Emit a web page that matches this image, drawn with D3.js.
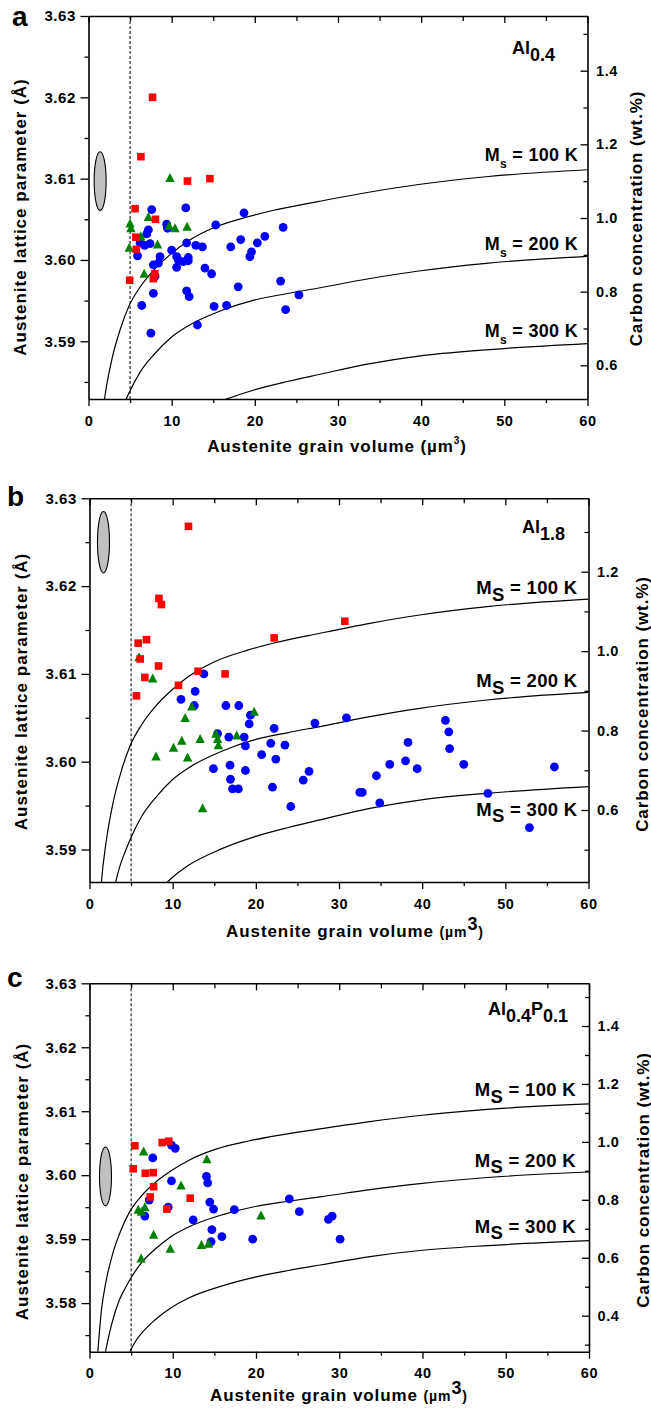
<!DOCTYPE html>
<html><head><meta charset="utf-8">
<script src="https://cdn.jsdelivr.net/npm/d3@7"></script>
<style>
body{margin:0;background:#fff}
svg{display:block}
text{font-family:"Liberation Sans",Arial,Helvetica,sans-serif;font-weight:bold;fill:#000}
</style>
</head><body>
<svg id="chart" width="651" height="1416"></svg>
<script>
// ---------------- DATA ----------------
const xTicks = [0, 10, 20, 30, 40, 50, 60];
const xMinorTicks = [5, 15, 25, 35, 45, 55];
const latticeTicksAB = [3.59, 3.60, 3.61, 3.62, 3.63];
const latticeMinorAB = [3.585, 3.595, 3.605, 3.615, 3.625];
const latticeTicksC = [3.58, 3.59, 3.60, 3.61, 3.62, 3.63];
const latticeMinorC = [3.575, 3.585, 3.595, 3.605, 3.615, 3.625];
const carbonTicksA = [0.6, 0.8, 1.0, 1.2, 1.4];
const carbonMinorA = [0.7, 0.9, 1.1, 1.3, 1.5];
const carbonTicksB = [0.6, 0.8, 1.0, 1.2];
const carbonMinorB = [0.5, 0.7, 0.9, 1.1, 1.3];
const carbonTicksC = [0.4, 0.6, 0.8, 1.0, 1.2, 1.4];
const carbonMinorC = [0.3, 0.5, 0.7, 0.9, 1.1, 1.3, 1.5];

const latticeDomainA = [3.5829, 3.63], carbonDomainA = [0.5085, 1.5485];
const latticeDomainB = [3.5863, 3.63], carbonDomainB = [0.4187, 1.3848];
const latticeDomainC = [3.5724, 3.63], carbonDomainC = [0.2757, 1.5474];

const minGrainVolume = 5; // dashed line (µm^3)

// Ms iso-lines: [grain volume µm^3, carbon wt.%]
const ms100 = [[1.0,0.276],[1.44,0.42],[2.0,0.52],[2.85,0.62],[3.85,0.70],[4.85,0.76],[6.25,0.814],[7.9,0.86],[9.9,0.902],[11.9,0.936],[15.1,0.974],[19.1,1.003],[22.3,1.021],[27.7,1.045],[33.7,1.07],[39.7,1.091],[47.8,1.112],[60,1.131]];
const ms200 = [[1.92,0.276],[2.4,0.34],[3.0,0.405],[3.6,0.455],[4.25,0.493],[4.85,0.524],[6.25,0.583],[7.9,0.63],[9.9,0.675],[11.9,0.706],[15.9,0.748],[19.9,0.777],[23.9,0.795],[27.7,0.81],[33.7,0.835],[39.7,0.856],[47.8,0.877],[60,0.896]];
const ms300 = [[4.85,0.276],[5.5,0.31],[6.25,0.339],[7.85,0.385],[9.85,0.428],[11.85,0.46],[15.85,0.502],[19.9,0.533],[23.9,0.556],[27.7,0.575],[33.7,0.604],[39.7,0.625],[47.8,0.642],[60,0.659]];
const msLabels = ["100", "200", "300"];

// error ellipses: [volume, lattice, half-height in Å]
const ellipseA = [1.4, 3.6097, 0.0036];
const ellipseB = [1.68, 3.6250, 0.0035];
const ellipseC = [1.92, 3.5998, 0.0046];

// Panel a (Al0.4): [grain volume, lattice parameter]
const aBlue = [[7.6,3.6062],[11.7,3.6064],[18.7,3.6058],[15.3,3.6043],[9.4,3.6044],[9.5,3.6039],[23.4,3.6040],[7.2,3.6037],[7.0,3.6032],[6.2,3.6021],[7.4,3.6020],[6.75,3.6018],[5.9,3.6005],[11.8,3.6021],[10.0,3.6012],[12.9,3.6018],[13.7,3.6016],[17.1,3.6016],[18.3,3.6025],[20.3,3.6021],[21.2,3.6029],[19.6,3.6010],[19.4,3.6004],[8.6,3.6004],[7.8,3.5994],[8.4,3.5996],[10.6,3.6004],[10.8,3.6000],[10.6,3.5991],[11.4,3.5998],[12.0,3.6003],[12.0,3.5999],[14.0,3.5990],[14.8,3.5983],[8.0,3.5980],[7.8,3.5959],[11.8,3.5962],[12.1,3.5955],[18.0,3.5967],[23.1,3.5974],[25.3,3.5957],[23.7,3.5939],[6.4,3.5944],[15.1,3.5943],[16.6,3.5944],[13.1,3.5920],[7.5,3.5910]];
const aGreen = [[9.8,3.6101],[5.0,3.6045],[5.1,3.6039],[7.2,3.6053],[6.3,3.6029],[4.9,3.6015],[8.3,3.6019],[6.7,3.5983],[9.7,3.6042],[10.4,3.6039],[11.85,3.6041]];
const aRed = [[7.7,3.6200],[6.3,3.6127],[11.9,3.6097],[14.6,3.6100],[5.6,3.6063],[8.05,3.6050],[5.7,3.6028],[5.75,3.6013],[7.98,3.5983],[7.8,3.5977],[4.95,3.5975]];

// Panel b (Al1.8)
const bBlue = [[13.75,3.6100],[12.7,3.6080],[11.0,3.6071],[12.6,3.6064],[16.4,3.6064],[17.95,3.6064],[19.35,3.6053],[19.2,3.6043],[15.4,3.6032],[16.75,3.6028],[18.6,3.6028],[18.75,3.6018],[22.2,3.6038],[21.8,3.6021],[23.5,3.6019],[20.7,3.6008],[22.4,3.6003],[27.1,3.6044],[14.9,3.5992],[16.9,3.5996],[16.95,3.5980],[17.2,3.5969],[17.9,3.5969],[18.75,3.5990],[22.0,3.5971],[24.2,3.5949],[25.7,3.5979],[26.4,3.5989],[30.9,3.6050],[42.8,3.6047],[43.2,3.6034],[43.3,3.6015],[38.3,3.6022],[38.0,3.6001],[36.1,3.5997],[39.4,3.5992],[45.0,3.5997],[34.5,3.5984],[32.5,3.5965],[32.8,3.5965],[34.9,3.5953],[47.9,3.5964],[55.9,3.5994],[52.9,3.5925]];
const bGreen = [[5.95,3.6119],[7.6,3.6095],[12.3,3.6063],[11.5,3.6050],[11.1,3.6024],[10.1,3.6016],[8.0,3.6006],[11.8,3.6005],[13.3,3.6026],[15.2,3.6032],[15.4,3.6026],[15.5,3.6019],[17.7,3.6030],[19.8,3.6057],[13.6,3.5947]];
const bRed = [[11.9,3.6268],[8.35,3.6186],[8.65,3.6179],[5.85,3.6135],[6.85,3.6139],[6.1,3.6117],[8.3,3.6109],[6.65,3.6096],[5.65,3.6075],[10.7,3.6087],[13.05,3.6103],[16.3,3.6100],[22.2,3.6141],[30.7,3.6160]];

// Panel c (Al0.4P0.1)
const cBlue = [[7.6,3.6027],[9.85,3.6047],[10.3,3.6042],[9.85,3.5991],[14.05,3.5998],[14.2,3.5988],[7.17,3.5961],[6.65,3.5936],[9.45,3.5950],[14.45,3.5958],[14.9,3.5947],[17.4,3.5946],[12.45,3.5930],[14.7,3.5915],[15.9,3.5904],[14.6,3.5896],[19.6,3.5900],[24.0,3.5963],[25.2,3.5943],[28.7,3.5931],[29.15,3.5936],[30.1,3.5900]];
const cGreen = [[6.5,3.6037],[14.1,3.6025],[11.0,3.5984],[20.6,3.5937],[5.85,3.5946],[6.25,3.5943],[6.65,3.5950],[7.7,3.5907],[9.7,3.5885],[13.45,3.5891],[14.3,3.5893],[6.2,3.5870]];
const cRed = [[5.45,3.6046],[5.25,3.6010],[8.73,3.6051],[9.53,3.6053],[6.7,3.6003],[7.65,3.6004],[7.7,3.5982],[7.3,3.5966],[12.1,3.5964],[9.3,3.5947]];

// ---------------- LAYOUT ----------------
const panels = [
  {key:"a", left:88.5, right:587.5, top:16, bottom:399,
   latDomain:latticeDomainA, carbDomain:carbonDomainA,
   latTicks:latticeTicksAB, latMinor:latticeMinorAB, carbTicks:carbonTicksA, carbMinor:carbonMinorA,
   blue:aBlue, green:aGreen, red:aRed, ellipse:ellipseA,
   alloy:[["Al",0],["0.4",1]], alloyX:555, alloyY:54,
   msSub:"s", msSubSize:12, msX:578, msY:[161,250,337], msSize:18,
   letterX:12, letterY:26,
   leftTitleX:26, leftTitleY:217, rightTitleX:642, rightTitleY:218.5,
   bottomTitleX:337, bottomTitleY:451.5, bigSup:false},
  {key:"b", left:89.5, right:588.5, top:498.3, bottom:882,
   latDomain:latticeDomainB, carbDomain:carbonDomainB,
   latTicks:latticeTicksAB, latMinor:latticeMinorAB, carbTicks:carbonTicksB, carbMinor:carbonMinorB,
   blue:bBlue, green:bGreen, red:bRed, ellipse:ellipseB,
   alloy:[["Al",0],["1.8",1]], alloyX:565, alloyY:533,
   msSub:"S", msSubSize:18.5, msX:577.5, msY:[594,687,815.5], msSize:18.5,
   letterX:7, letterY:506,
   leftTitleX:26.5, leftTitleY:691.5, rightTitleX:648, rightTitleY:704,
   bottomTitleX:355, bottomTitleY:937, bigSup:true},
  {key:"c", left:89.5, right:589, top:983.3, bottom:1351.7,
   latDomain:latticeDomainC, carbDomain:carbonDomainC,
   latTicks:latticeTicksC, latMinor:latticeMinorC, carbTicks:carbonTicksC, carbMinor:carbonMinorC,
   blue:cBlue, green:cGreen, red:cRed, ellipse:ellipseC,
   alloy:[["Al",0],["0.4",1],["P",0],["0.1",1]], alloyX:568, alloyY:1015,
   msSub:"S", msSubSize:18.5, msX:576, msY:[1096,1166.5,1232.5], msSize:18.5,
   letterX:7, letterY:987,
   leftTitleX:27.5, leftTitleY:1181.5, rightTitleX:648.5, rightTitleY:1180,
   bottomTitleX:339, bottomTitleY:1401, bigSup:true}
];

const svg = d3.select("#chart");
const COLORS = {blue:"#0000ff", green:"#008000", red:"#ff0000"};

function styleAxis(g, fontSize){
  g.select(".domain").attr("stroke","#000").attr("stroke-width",1.6);
  g.selectAll(".tick line").attr("stroke","#000").attr("stroke-width",1.3);
  g.selectAll("text").attr("font-family",null).attr("font-size",fontSize)
    .style("font-weight","bold").style("letter-spacing","0.6px").attr("fill","#000");
  g.attr("font-family",null).attr("font-size",null);
}

function drawPanel(p){
  const x = d3.scaleLinear().domain([0,60]).range([p.left,p.right]);
  const y = d3.scaleLinear().domain(p.latDomain).range([p.bottom,p.top]);
  const yc = d3.scaleLinear().domain(p.carbDomain).range([p.bottom,p.top]);
  const g = svg.append("g");
  const clipId = "clip-"+p.key;
  svg.append("clipPath").attr("id",clipId).append("rect")
    .attr("x",p.left).attr("y",p.top).attr("width",p.right-p.left).attr("height",p.bottom-p.top);

  // Ms curves
  const line = d3.line().x(d=>x(d[0])).y(d=>yc(d[1])).curve(d3.curveMonotoneX);
  const plot = g.append("g").attr("clip-path",`url(#${clipId})`);
  [ms100, ms200, ms300].forEach(c=>{
    plot.append("path").attr("d",line(c)).attr("fill","none").attr("stroke","#000").attr("stroke-width",1.2);
  });
  // dashed line
  plot.append("line").attr("x1",x(minGrainVolume)).attr("x2",x(minGrainVolume))
    .attr("y1",p.top).attr("y2",p.bottom).attr("stroke","#000").attr("stroke-width",1)
    .attr("stroke-dasharray","3,2");
  // ellipse
  const e = p.ellipse;
  plot.append("ellipse").attr("cx",x(e[0])).attr("cy",y(e[1]))
    .attr("rx",6).attr("ry",y(e[1]-e[2])-y(e[1]))
    .attr("fill","#c0c0c0").attr("stroke","#000").attr("stroke-width",1.1);

  // points
  plot.selectAll("circle.b").data(p.blue).enter().append("circle")
    .attr("cx",d=>x(d[0])).attr("cy",d=>y(d[1])).attr("r",4.4).attr("fill",COLORS.blue);
  const tri = (cx,cy)=>{const w=9.4,h=8.2;return `M${cx},${cy-h/2-0.8}L${cx+w/2},${cy+h/2}L${cx-w/2},${cy+h/2}Z`;};
  plot.selectAll("path.g").data(p.green).enter().append("path")
    .attr("d",d=>tri(x(d[0]),y(d[1]))).attr("fill",COLORS.green);
  const s = 7.6;
  plot.selectAll("rect.r").data(p.red).enter().append("rect")
    .attr("x",d=>x(d[0])-s/2).attr("y",d=>y(d[1])-s/2).attr("width",s).attr("height",s).attr("fill",COLORS.red);

  // axes
  const bx = g.append("g").attr("transform",`translate(0,${p.bottom})`)
    .call(d3.axisBottom(x).tickValues(xTicks).tickSize(7).tickSizeOuter(0).tickPadding(9.5).tickFormat(d3.format("d")));
  styleAxis(bx, 14.5);
  const bxm = g.append("g").attr("transform",`translate(0,${p.bottom})`)
    .call(d3.axisBottom(x).tickValues(xMinorTicks).tickSize(4).tickSizeOuter(0).tickFormat(""));
  styleAxis(bxm, 14.5); bxm.select(".domain").remove();
  const tx = g.append("g").attr("transform",`translate(0,${p.top})`)
    .call(d3.axisTop(x).tickValues(xTicks).tickSize(-7).tickSizeOuter(0).tickFormat(""));
  styleAxis(tx, 14.5);
  const txm = g.append("g").attr("transform",`translate(0,${p.top})`)
    .call(d3.axisTop(x).tickValues(xMinorTicks).tickSize(-5).tickSizeOuter(0).tickFormat(""));
  styleAxis(txm, 14.5); txm.select(".domain").remove();

  const ly = g.append("g").attr("transform",`translate(${p.left},0)`)
    .call(d3.axisLeft(y).tickValues(p.latTicks).tickSize(8).tickSizeOuter(0).tickPadding(4.5).tickFormat(d3.format(".2f")));
  styleAxis(ly, 15);
  const lym = g.append("g").attr("transform",`translate(${p.left},0)`)
    .call(d3.axisLeft(y).tickValues(p.latMinor.filter(v=>v>p.latDomain[0])).tickSize(4).tickSizeOuter(0).tickFormat(""));
  styleAxis(lym, 15); lym.select(".domain").remove();

  const ry = g.append("g").attr("transform",`translate(${p.right},0)`)
    .call(d3.axisRight(yc).tickValues(p.carbTicks).tickSize(-7).tickSizeOuter(0).tickPadding(8.5).tickFormat(d3.format(".1f")));
  styleAxis(ry, 14.5);
  const rym = g.append("g").attr("transform",`translate(${p.right},0)`)
    .call(d3.axisRight(yc).tickValues(p.carbMinor.filter(v=>v>p.carbDomain[0]&&v<p.carbDomain[1])).tickSize(-4).tickSizeOuter(0).tickFormat(""));
  styleAxis(rym, 14.5); rym.select(".domain").remove();

  // panel letter
  g.append("text").attr("x",p.letterX).attr("y",p.letterY).attr("font-size",28).text(p.key);

  // alloy label
  const at = g.append("text").attr("x",p.alloyX).attr("y",p.alloyY).attr("text-anchor","end").attr("font-size",18);
  let prev = 0;
  p.alloy.forEach(([t,sub])=>{
    at.append("tspan").attr("dy",(sub-prev)*7).text(t);
    prev = sub;
  });

  // Ms labels
  msLabels.forEach((lab,i)=>{
    const t = g.append("text").attr("x",p.msX).attr("y",p.msY[i]).attr("text-anchor","end")
      .attr("font-size",p.msSize).style("letter-spacing","0.3px");
    t.append("tspan").text("M");
    t.append("tspan").attr("dy",p.msSub==="s"?7:6.5).attr("font-size",p.msSubSize).text(p.msSub);
    t.append("tspan").attr("dy",p.msSub==="s"?-7:-6.5).text(" = "+lab+" K");
  });

  // axis titles
  g.append("text").attr("transform",`translate(${p.leftTitleX},${p.leftTitleY}) rotate(-90)`)
    .attr("text-anchor","middle").attr("font-size",17).style("letter-spacing","1px")
    .text("Austenite lattice parameter (Å)");
  g.append("text").attr("transform",`translate(${p.rightTitleX},${p.rightTitleY}) rotate(-90)`)
    .attr("text-anchor","middle").attr("font-size",17).style("letter-spacing","0.9px")
    .text("Carbon concentration (wt.%)");
  const bt = g.append("text").attr("x",p.bottomTitleX).attr("y",p.bottomTitleY)
    .attr("text-anchor","middle").attr("font-size",17).style("letter-spacing","0.9px");
  if(p.bigSup){
    bt.append("tspan").text("Austenite grain volume ");
    bt.append("tspan").attr("font-size",14).text("(µm");
    bt.append("tspan").attr("dy",-7).attr("font-size",18).text("3");
    bt.append("tspan").attr("dy",7).attr("font-size",14).text(")");
  } else {
    bt.append("tspan").text("Austenite grain volume (µm");
    bt.append("tspan").attr("dy",-8).attr("font-size",10).text("3");
    bt.append("tspan").attr("dy",8).text(")");
  }
}

panels.forEach(drawPanel);
</script>
</body></html>
